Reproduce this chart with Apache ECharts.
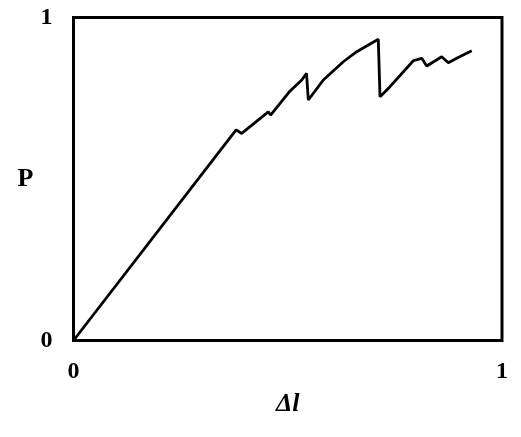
<!DOCTYPE html>
<html>
<head>
<meta charset="utf-8">
<script src="https://cdn.jsdelivr.net/npm/echarts@6/dist/echarts.min.js"></script>
<style>html,body{margin:0;padding:0;background:#fff;}#c{width:521px;height:437px;}</style>
</head>
<body>
<div id="c"></div>
<script>
var deltaL = [0, 0.3795, 0.3925, 0.4546, 0.460, 0.505, 0.5326, 0.5438, 0.548, 0.583, 0.6296, 0.661, 0.7113, 0.7153, 0.7386, 0.793, 0.8126, 0.8163, 0.8243, 0.8593, 0.8747, 0.8943, 0.9293];
var P = [0, 0.652, 0.641, 0.708, 0.698, 0.772, 0.8065, 0.827, 0.7446, 0.8065, 0.863, 0.894, 0.9325, 0.7548, 0.7858, 0.866, 0.8737, 0.8768, 0.8498, 0.8786, 0.860, 0.8737, 0.897];
var xTicks = ['0', '1'];
var yTicks = ['0', '1'];
var xName = 'Δl';
var yName = 'P';

var pts = deltaL.map(function (x, i) { return [x, P[i]]; });
var font = '"Liberation Serif", "Times New Roman", serif';
var chart = echarts.init(document.getElementById('c'), null, {renderer: 'canvas'});
chart.setOption({
  animation: false,
  backgroundColor: '#fff',
  grid: {left: 73.5, right: 19, top: 17.5, bottom: 96.5, show: true, borderColor: '#000', borderWidth: 3, backgroundColor: 'transparent'},
  xAxis: {
    type: 'value', min: 0, max: 1, interval: 1,
    name: xName, nameLocation: 'middle', nameGap: 64,
    nameTextStyle: {fontFamily: font, fontWeight: 'bold', fontStyle: 'italic', fontSize: 26, color: '#000', verticalAlign: 'middle', align: 'center'},
    axisLine: {show: false}, axisTick: {show: false}, splitLine: {show: false},
    axisLabel: {margin: 19, fontFamily: font, fontWeight: 'bold', fontSize: 24, color: '#000',
      formatter: function (v) { return v === 0 ? xTicks[0] : xTicks[1]; }}
  },
  yAxis: {
    type: 'value', min: 0, max: 1, interval: 1,
    name: yName, nameLocation: 'middle', nameGap: 48, nameRotate: 0,
    nameTextStyle: {fontFamily: font, fontWeight: 'bold', fontSize: 26, color: '#000', verticalAlign: 'middle', align: 'center'},
    axisLine: {show: false}, axisTick: {show: false}, splitLine: {show: false},
    axisLabel: {margin: 21, fontFamily: font, fontWeight: 'bold', fontSize: 24, color: '#000',
      formatter: function (v) { return v === 0 ? yTicks[0] : yTicks[1]; }}
  },
  series: [{
    type: 'line', data: pts, showSymbol: false, symbol: 'none',
    lineStyle: {color: '#000', width: 2.8}, clip: false
  }]
});
</script>
</body>
</html>
